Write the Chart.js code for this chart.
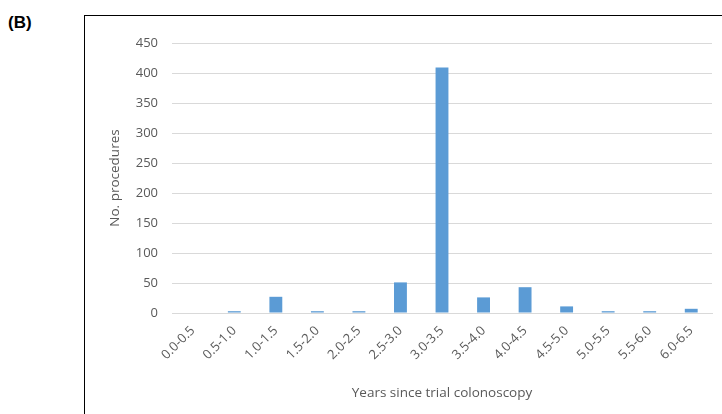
<!DOCTYPE html>
<html>
<head>
<meta charset="utf-8">
<script src="https://cdn.jsdelivr.net/npm/chart.js@4.4.1/dist/chart.umd.min.js"></script>
<style>
  html, body { margin: 0; padding: 0; background: #fff; width: 722px; height: 414px; overflow: hidden; }
  #panel { position: absolute; left: 8px; top: 13px; font: bold 17px "Liberation Sans", Arial, sans-serif; color: #000; }
  #frame { position: absolute; left: 84px; top: 15px; width: 700px; height: 500px; border: 1.5px solid #000; box-sizing: border-box; }
  #wrap { position: absolute; left: 85px; top: 16px; width: 637px; height: 398px; }
</style>
</head>
<body>
<div id="panel">(B)</div>
<div id="frame"></div>
<div id="wrap"><canvas id="grafico"></canvas></div>
<script>
const categorias = ["0.0-0.5", "0.5-1.0", "1.0-1.5", "1.5-2.0", "2.0-2.5", "2.5-3.0", "3.0-3.5",
  "3.5-4.0", "4.0-4.5", "4.5-5.0", "5.0-5.5", "5.5-6.0", "6.0-6.5"];
const procedimientos = [0, 3, 27, 3, 3, 51, 409, 26, 43, 11, 3, 3, 7];
const ticksY = [0, 50, 100, 150, 200, 250, 300, 350, 400, 450];

const fuente = { family: "'Open Sans', sans-serif", size: 13 };
const fuenteTitulo = { family: "'Open Sans', sans-serif", size: 13.5 };
const gris = "#595959";

new Chart(document.getElementById("grafico"), {
  type: "bar",
  data: {
    labels: categorias,
    datasets: [{
      label: "No. procedures",
      data: procedimientos,
      backgroundColor: "#5B9BD5",
      borderWidth: 0,
      barPercentage: 0.62,
      categoryPercentage: 0.5,
    }],
  },
  options: {
    responsive: true,
    maintainAspectRatio: false,
    animation: false,
    layout: { padding: { top: 27, right: 10, left: 0, bottom: 0 } },
    plugins: { legend: { display: false }, tooltip: { enabled: false } },
    scales: {
      x: {
        grid: { display: false },
        border: { color: "#D9D9D9", width: 1 },
        ticks: { color: gris, font: fuente, maxRotation: 45, minRotation: 45, padding: 2 },
        title: { display: true, text: "Years since trial colonoscopy", color: gris, font: fuenteTitulo, padding: { top: 4, bottom: 13 } },
        afterFit: (s) => { s.height = 101; },
      },
      y: {
        min: 0,
        max: 450,
        afterBuildTicks: (s) => { s.ticks = ticksY.map((v) => ({ value: v })); },
        grid: { color: "#D9D9D9", lineWidth: 1, drawTicks: false },
        border: { display: false },
        ticks: { color: gris, font: fuente, padding: 14 },
        title: { display: true, text: "No. procedures", color: gris, font: fuenteTitulo, padding: { top: 22, bottom: 0 } },
        afterFit: (s) => { s.width = 87; },
      },
    },
  },
});
</script>
</body>
</html>
